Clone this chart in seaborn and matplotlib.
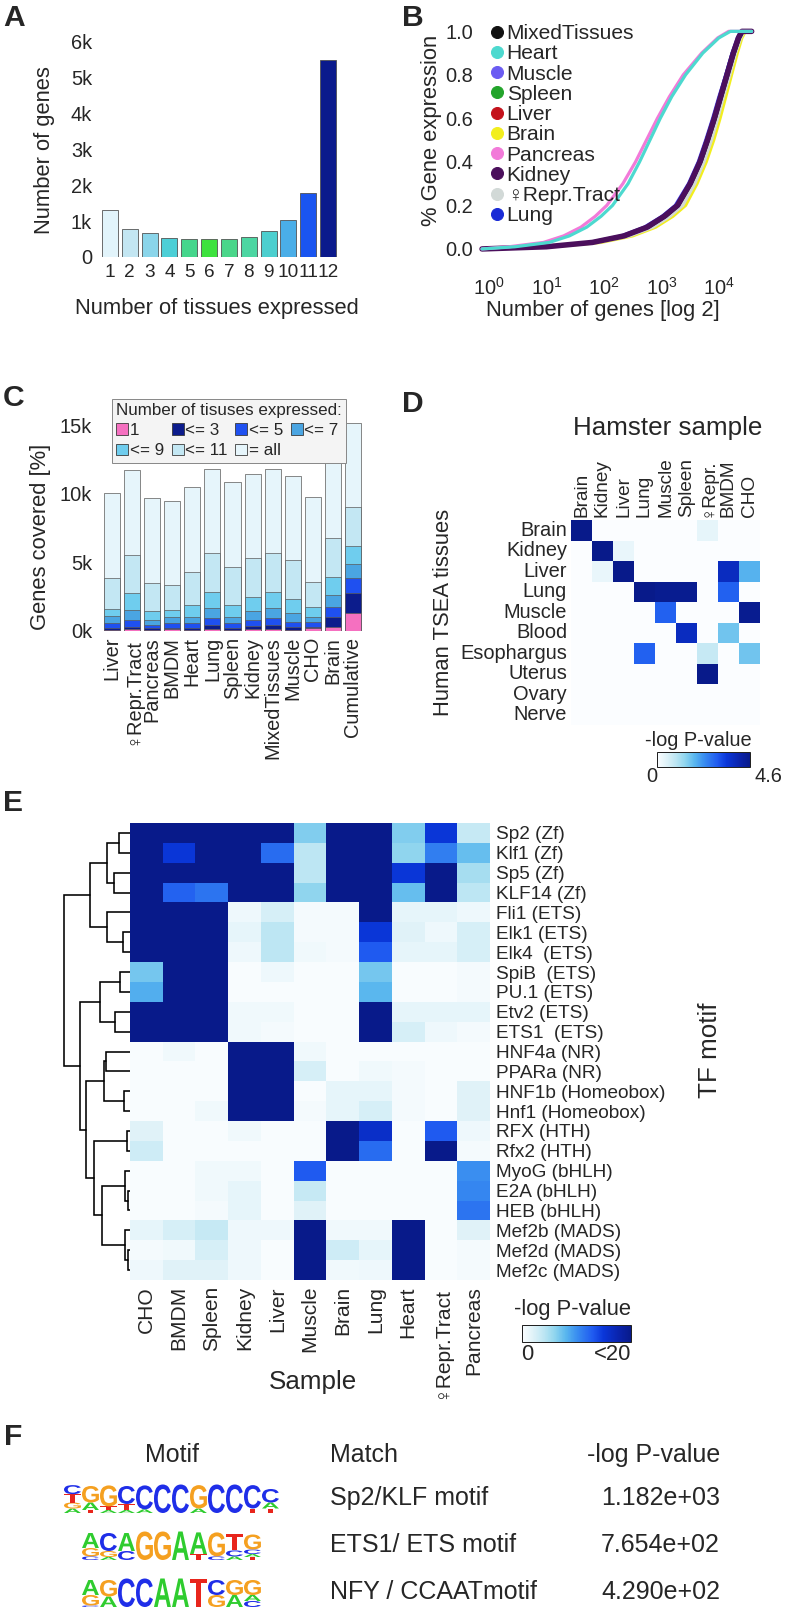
import numpy as np
import pandas as pd
import matplotlib
matplotlib.use("Agg")
import matplotlib.pyplot as plt
import seaborn as sns
from matplotlib.colors import LinearSegmentedColormap
from matplotlib.lines import Line2D
from matplotlib.patches import Patch, PathPatch
from matplotlib.textpath import TextPath
from matplotlib.font_manager import FontProperties
from matplotlib.transforms import Affine2D
from matplotlib.ticker import FixedLocator, NullFormatter

W, H = 788, 1610

# ---------------- A: number of genes vs number of tissues
A_TISSUES = ['1', '2', '3', '4', '5', '6', '7', '8', '9', '10', '11', '12']
A_GENES = [1310, 790, 670, 530, 495, 505, 505, 570, 730, 1030, 1770, 5470]
A_COLORS = ['#e2f4fb', '#c3e6f2', '#8ad5ea', '#4ccfd6', '#45d68c', '#3ee23e',
            '#4ad68a', '#4cd6a2', '#4ccfcf', '#4aaee8', '#1a55f0', '#0b1a8c']
A_YTICKS = [0, 1000, 2000, 3000, 4000, 5000, 6000]
A_YTICKLABELS = ['0', '1k', '2k', '3k', '4k', '5k', '6k']

# ---------------- B: cumulative gene expression curves (log10 genes at each fraction)
B_FRAC = [0, .01, .03, .06, .1, .15, .2, .3, .4, .5, .6, .7, .8, .9, .97, 1.0, 1.0]
B_X_MIXED = [-0.12, 1.02, 1.83, 2.38, 2.78, 3.08, 3.30, 3.52, 3.69, 3.82, 3.94, 4.05, 4.16, 4.27, 4.36, 4.42, 4.57]
B_X_HEART = [-0.12, 0.45, 1.05, 1.40, 1.70, 1.95, 2.15, 2.42, 2.62, 2.80, 2.98, 3.18, 3.42, 3.72, 4.00, 4.20, 4.57]
B_X_MUSCLE = [-0.12, 0.95, 1.75, 2.30, 2.70, 3.01, 3.24, 3.47, 3.64, 3.77, 3.89, 4.00, 4.12, 4.23, 4.32, 4.38, 4.57]
B_X_SPLEEN = [-0.12, 1.00, 1.81, 2.36, 2.76, 3.06, 3.29, 3.51, 3.68, 3.81, 3.93, 4.04, 4.15, 4.26, 4.35, 4.41, 4.57]
B_X_LIVER = [-0.12, 0.98, 1.78, 2.33, 2.73, 3.04, 3.27, 3.49, 3.66, 3.79, 3.91, 4.02, 4.13, 4.24, 4.33, 4.39, 4.57]
B_X_BRAIN = [-0.12, 1.10, 1.95, 2.50, 2.90, 3.20, 3.42, 3.62, 3.78, 3.91, 4.02, 4.12, 4.22, 4.32, 4.40, 4.46, 4.57]
B_X_PANCREAS = [-0.12, 0.35, 0.95, 1.30, 1.60, 1.85, 2.05, 2.33, 2.55, 2.74, 2.93, 3.14, 3.38, 3.70, 3.98, 4.17, 4.57]
B_X_KIDNEY = [-0.12, 1.00, 1.80, 2.35, 2.75, 3.05, 3.28, 3.50, 3.67, 3.80, 3.92, 4.03, 4.14, 4.25, 4.34, 4.40, 4.57]
B_X_REPR = [-0.12, 1.06, 1.90, 2.45, 2.85, 3.15, 3.37, 3.58, 3.74, 3.87, 3.98, 4.08, 4.19, 4.29, 4.38, 4.44, 4.57]
B_X_LUNG = [-0.12, 0.97, 1.77, 2.32, 2.72, 3.02, 3.25, 3.48, 3.65, 3.78, 3.90, 4.01, 4.12, 4.23, 4.33, 4.39, 4.57]
B_TISSUES = ['MixedTissues', 'Heart', 'Muscle', 'Spleen', 'Liver', 'Brain',
             'Pancreas', 'Kidney', '\u2640Repr.Tract', 'Lung']
B_COLORS = ['#111111', '#4dd9cf', '#6b5cf2', '#23a42b', '#c4121c', '#f2ee1e',
            '#f27ad9', '#4b0f5c', '#d2d9d7', '#1a2bd6']
B_CURVES = [B_X_MIXED, B_X_HEART, B_X_MUSCLE, B_X_SPLEEN, B_X_LIVER, B_X_BRAIN,
            B_X_PANCREAS, B_X_KIDNEY, B_X_REPR, B_X_LUNG]
B_DRAW_ORDER = [5, 8, 4, 3, 0, 2, 9, 7, 6, 1]

# ---------------- C: genes covered per sample (cumulative level tops)
C_SAMPLES = ['Liver', '\u2640Repr.Tract', 'Pancreas', 'BMDM', 'Heart', 'Lung', 'Spleen',
             'Kidney', 'MixedTissues', 'Muscle', 'CHO', 'Brain', 'Cumulative']
C_ALL = [10070, 11720, 9710, 9510, 10490, 11840, 10830, 11480, 11840, 11330, 9760, 12890, 15190]
C_LE11 = [3880, 5530, 3520, 3350, 4300, 5680, 4660, 5290, 5680, 5170, 3590, 6750, 9030]
C_LE9 = [1580, 2740, 1460, 1530, 1890, 2860, 1890, 2500, 2860, 2350, 1720, 3960, 6210]
C_LE7 = [1090, 1530, 800, 1040, 1040, 1700, 1040, 1460, 1700, 1290, 1040, 2620, 4850]
C_LE5 = [560, 800, 440, 560, 560, 920, 560, 800, 920, 680, 680, 1720, 3830]
C_LE3 = [240, 320, 190, 240, 190, 440, 190, 360, 440, 320, 320, 1040, 2790]
C_ONE = [70, 120, 70, 120, 70, 120, 70, 120, 120, 70, 190, 320, 1290]
C_LEVELS = ['1', '<= 3', '<= 5', '<= 7', '<= 9', '<= 11', '= all']
C_COLORS = ['#f570c0', '#0c1c8c', '#1f50f0', '#4aa5e2', '#6fcdee', '#c3e7f3', '#e6f5fb']
C_YTICKS = [0, 5000, 10000, 15000]
C_YTICKLABELS = ['0k', '5k', '10k', '15k']
C_YMINOR = [2500, 7500, 12500]

# ---------------- D: TSEA enrichment
D_TISSUES = ['Brain', 'Kidney', 'Liver', 'Lung', 'Muscle', 'Blood', 'Esophargus',
             'Uterus', 'Ovary', 'Nerve']
D_SAMPLES = ['Brain', 'Kidney', 'Liver', 'Lung', 'Muscle', 'Spleen', '\u2640Repr.',
             'BMDM', 'CHO']
D_VALUES = [
    [4.6, 0, 0, 0, 0, 0, 0.35, 0, 0],
    [0, 4.6, 0.3, 0, 0, 0, 0, 0, 0],
    [0, 0.3, 4.6, 0, 0, 0, 0, 3.8, 1.9],
    [0, 0, 0, 4.6, 4.5, 4.5, 0, 2.9, 0],
    [0, 0, 0, 0, 2.9, 0, 0, 0, 4.5],
    [0, 0, 0, 0, 0, 3.8, 0, 1.65, 0],
    [0, 0, 0, 2.9, 0, 0, 0.8, 0, 1.65],
    [0, 0, 0, 0, 0, 0, 4.6, 0, 0],
    [0, 0, 0, 0, 0, 0, 0, 0, 0],
    [0, 0, 0, 0, 0, 0, 0, 0, 0],
]

# ---------------- E: TF motif enrichment
E_MOTIFS = ['Sp2 (Zf)', 'Klf1 (Zf)', 'Sp5 (Zf)', 'KLF14 (Zf)', 'Fli1 (ETS)', 'Elk1 (ETS)',
            'Elk4  (ETS)', 'SpiB  (ETS)', 'PU.1 (ETS)', 'Etv2 (ETS)', 'ETS1  (ETS)',
            'HNF4a (NR)', 'PPARa (NR)', 'HNF1b (Homeobox)', 'Hnf1 (Homeobox)', 'RFX (HTH)',
            'Rfx2 (HTH)', 'MyoG (bHLH)', 'E2A (bHLH)', 'HEB (bHLH)', 'Mef2b (MADS)',
            'Mef2d (MADS)', 'Mef2c (MADS)']
E_SAMPLES = ['CHO', 'BMDM', 'Spleen', 'Kidney', 'Liver', 'Muscle', 'Brain', 'Lung',
             'Heart', '\u2640Repr.Tract', 'Pancreas']
E_VALUES = [
    [20, 20, 20, 20, 20, 6.5, 20, 20, 6.5, 15, 3.5],
    [20, 15, 20, 20, 12, 4, 20, 20, 6, 11, 7.5],
    [20, 20, 20, 20, 20, 4, 20, 20, 15, 20, 5],
    [20, 12.5, 11.5, 20, 20, 6, 20, 20, 7.5, 20, 4],
    [20, 20, 20, 1, 2.5, 0.5, 0.5, 20, 1.5, 1.5, 1],
    [20, 20, 20, 1.5, 4, 0.5, 0.5, 15, 2, 1, 2.5],
    [20, 20, 20, 1, 4, 0.8, 0.5, 13, 1.5, 1.5, 2.5],
    [7, 20, 20, 0.3, 1, 0.3, 0.3, 7, 0.3, 0.3, 0.5],
    [8.5, 20, 20, 0.3, 0.3, 0.3, 0.3, 8, 0.3, 0.3, 0.5],
    [20, 20, 20, 0.8, 0.8, 0.3, 0.3, 20, 1.5, 1.5, 1.5],
    [20, 20, 20, 0.8, 0.5, 0.3, 0.3, 20, 2.5, 1, 0.5],
    [0.3, 0.8, 0.3, 20, 20, 0.8, 0.3, 0.3, 0.3, 0.3, 0.3],
    [0.3, 0.3, 0.3, 20, 20, 2.5, 0.3, 0.8, 0.5, 0.3, 0.3],
    [0.3, 0.3, 0.3, 20, 20, 0.3, 1.5, 1.5, 0.5, 0.3, 2],
    [0.3, 0.3, 0.8, 20, 20, 0.5, 1.5, 2.5, 0.5, 0.3, 2],
    [2, 0.3, 0.3, 0.8, 0.3, 0.3, 20, 16, 0.3, 13, 1],
    [3, 0.3, 0.3, 0.3, 0.3, 0.3, 20, 12, 0.3, 20, 0.5],
    [0.3, 0.3, 0.8, 0.8, 0.3, 13, 0.3, 0.3, 0.3, 0.3, 10],
    [0.3, 0.3, 0.8, 1.5, 0.3, 3.5, 0.3, 0.3, 0.3, 0.3, 10.5],
    [0.3, 0.3, 0.5, 1.5, 0.3, 2, 0.3, 0.3, 0.3, 0.3, 11.5],
    [1.5, 2.5, 3.5, 1, 1, 20, 0.8, 0.8, 20, 0.3, 2],
    [0.5, 0.8, 2.5, 1, 0.3, 20, 3, 1.5, 20, 0.3, 0.5],
    [1, 2, 2, 1, 0.3, 20, 0.8, 1, 20, 0.3, 0.5],
]
# merges (left, right, distance); leaves 0..22, new clusters numbered from 23
E_LINKAGE = [(0, 1, 11), (2, 3, 16), (23, 24, 23), (5, 6, 7), (4, 26, 23), (25, 27, 40),
             (7, 8, 10), (9, 10, 15), (29, 30, 30), (11, 12, 24), (13, 14, 6), (32, 33, 26),
             (15, 16, 3), (18, 19, 2), (17, 36, 5), (21, 22, 2), (20, 38, 5), (37, 39, 28),
             (35, 40, 36), (34, 41, 44), (31, 42, 50), (28, 43, 66)]

# ---------------- F: de novo motifs (letter stacks bottom -> top, height as fraction)
F_MATCH = ['Sp2/KLF motif', 'ETS1/ ETS motif', 'NFY / CCAATmotif']
F_PVALUE = ['1.182e+03', '7.654e+02', '4.290e+02']
F_LOGO_SP2 = [[('A', .15), ('G', .2), ('T', .28), ('C', .3)], [('T', .1), ('A', .25), ('G', .55)],
              [('A', .1), ('T', .12), ('G', .7)], [('A', .1), ('T', .2), ('C', .6)],
              [('A', .12), ('C', .8)], [('C', .95)], [('C', .95)], [('A', .15), ('G', .78)],
              [('C', .95)], [('C', .95)], [('T', .15), ('C', .78)],
              [('T', .15), ('A', .2), ('C', .45)]]
F_LOGO_ETS = [[('C', .12), ('G', .28), ('A', .5)], [('A', .1), ('G', .2), ('C', .6)],
              [('C', .3), ('A', .6)], [('G', .95)], [('G', .95)], [('A', .95)],
              [('T', .2), ('A', .72)], [('C', .12), ('G', .8)],
              [('A', .12), ('C', .2), ('T', .55)], [('T', .1), ('A', .1), ('C', .15), ('G', .5)]]
F_LOGO_NFY = [[('C', .05), ('G', .35), ('A', .5)], [('A', .35), ('G', .55)], [('C', .95)],
              [('C', .95)], [('A', .95)], [('A', .95)], [('T', .95)], [('G', .4), ('C', .5)],
              [('A', .4), ('G', .5)], [('C', .2), ('A', .2), ('G', .5)]]
F_LOGOS = [F_LOGO_SP2, F_LOGO_ETS, F_LOGO_NFY]
F_BASE_COLORS = {'A': '#2fcc2f', 'C': '#1f2ee8', 'G': '#f5a020', 'T': '#e8251c'}

CMAP = LinearSegmentedColormap.from_list('blues', [
    (0.0, '#fbfdff'), (0.1, '#dff2f8'), (0.2, '#bde6f3'), (0.3, '#8fd5ee'),
    (0.4, '#5ab7ee'), (0.5, '#3a8ff0'), (0.65, '#1f5af0'), (0.75, '#0a36d8'),
    (0.9, '#0a22a8'), (1.0, '#081a8a')])

sns.set_style('white')
plt.rcParams['font.family'] = ['Liberation Sans', 'DejaVu Sans']
plt.rcParams['axes.unicode_minus'] = False

fig = plt.figure(figsize=(W / 72, H / 72), dpi=72)
PX = Affine2D().scale(1.0 / W, -1.0 / H).translate(0, 1) + fig.transFigure


def px_axes(x0, y0, x1, y1):
    return fig.add_axes([x0 / W, 1 - y1 / H, (x1 - x0) / W, (y1 - y0) / H])


def ftext(x, y, s, **kw):
    return fig.text(x, y, s, transform=PX, **kw)


for letter, lx, ly in [('A', 3, 18), ('B', 402, 18), ('C', 3, 398), ('D', 402, 404),
                       ('E', 3, 803), ('F', 4, 1437)]:
    ftext(lx, ly, letter, fontsize=30, fontweight='bold', va='center')

# ---------- panel A
axA = px_axes(100, 36, 338, 257)
sns.barplot(x=A_TISSUES, y=A_GENES, hue=A_TISSUES, palette=A_COLORS, legend=False,
            saturation=1, width=0.8, edgecolor='#4d4d4d', linewidth=0.8, ax=axA)
axA.set_ylim(0, 6150)
axA.set_yticks(A_YTICKS, A_YTICKLABELS)
sns.despine(ax=axA, left=True, bottom=True)
axA.tick_params(axis='y', length=5, width=1.2, pad=3, labelsize=20)
axA.tick_params(axis='x', length=0, pad=7, labelsize=19)
axA.set_xlabel('Number of tissues expressed', fontsize=22)
axA.xaxis.set_label_coords(217, 298, transform=PX)
axA.set_ylabel('Number of genes', fontsize=22)
axA.yaxis.set_label_coords(55, 150, transform=PX)

# ---------- panel B
axB = px_axes(478, 27, 762, 267)
axB.set_xscale('log')
for i in B_DRAW_ORDER:
    lw = 5.5 if B_TISSUES[i] == 'Kidney' else 3.2
    sns.lineplot(x=np.power(10.0, B_CURVES[i]), y=B_FRAC, color=B_COLORS[i], lw=lw,
                 ax=axB, legend=False)
axB.set_xlim(10 ** -0.19, 10 ** 4.75)
axB.set_ylim(-0.083, 1.02)
axB.set_yticks([0, 0.2, 0.4, 0.6, 0.8, 1.0], ['0.0', '0.2', '0.4', '0.6', '0.8', '1.0'])
axB.set_xticks([1, 10, 100, 1000, 10000])
axB.xaxis.set_minor_formatter(NullFormatter())
sns.despine(ax=axB, left=True, bottom=True)
axB.tick_params(axis='y', length=4, width=1.2, pad=1, labelsize=20)
axB.tick_params(axis='x', which='major', length=7, width=1.6, pad=3, labelsize=20)
axB.tick_params(axis='x', which='minor', length=2.5, width=1.6)
axB.set_xlabel('Number of genes [log 2]', fontsize=22)
axB.xaxis.set_label_coords(603, 300, transform=PX)
axB.set_ylabel('% Gene expression', fontsize=22)
axB.yaxis.set_label_coords(442, 130, transform=PX)
handles = [Line2D([], [], ls='', marker='o', ms=12, mfc=c, mec=c) for c in B_COLORS]
axB.legend(handles, B_TISSUES, loc='upper left', bbox_to_anchor=(491, 24),
           bbox_transform=PX, frameon=False, fontsize=21, handlelength=0.55,
           handletextpad=0.2, labelspacing=0.06, borderpad=0, borderaxespad=0)

# ---------- panel C
axC = px_axes(100, 417, 365, 631)
C_TOPS = [C_ONE, C_LE3, C_LE5, C_LE7, C_LE9, C_LE11, C_ALL]
for vals, color in zip(C_TOPS[::-1], C_COLORS[::-1]):
    sns.barplot(x=C_SAMPLES, y=vals, color=color, saturation=1, width=0.8,
                edgecolor='#5a5a5a', linewidth=0.7, ax=axC)
axC.set_xlim(-0.6, 12.6)
axC.set_ylim(0, 15600)
axC.set_yticks(C_YTICKS, C_YTICKLABELS)
axC.yaxis.set_minor_locator(FixedLocator(C_YMINOR))
sns.despine(ax=axC, left=True, bottom=True)
axC.tick_params(axis='y', which='both', length=5, width=1.2, pad=3, labelsize=20)
axC.tick_params(axis='x', length=0, pad=6, labelsize=20, rotation=90)
axC.set_xlabel('')
axC.set_ylabel('Genes covered [%]', fontsize=22)
axC.yaxis.set_label_coords(51, 537, transform=PX)
c_handles = [Patch(facecolor=c, edgecolor='#333333', lw=0.8) for c in C_COLORS]
c_order = [0, 4, 1, 5, 2, 6, 3]
axC.legend([c_handles[i] for i in c_order], [C_LEVELS[i] for i in c_order],
           title='Number of tisuses expressed:', ncol=4, loc='upper left',
           bbox_to_anchor=(112, 399), bbox_transform=PX, fontsize=17, title_fontsize=17,
           alignment='left', frameon=True, fancybox=False, edgecolor='#8a8a8a',
           facecolor='#f4f4f4', framealpha=1, handlelength=0.7, handleheight=0.7,
           handletextpad=0.1, columnspacing=0.45, borderpad=0.25, labelspacing=0.3,
           borderaxespad=0)

# ---------- panel D
axD = px_axes(571, 520, 760, 725)
caxD = px_axes(657, 752, 750, 767)
sns.heatmap(pd.DataFrame(D_VALUES, index=D_TISSUES, columns=D_SAMPLES), ax=axD,
            cmap=CMAP, vmin=0, vmax=4.6, cbar_ax=caxD,
            cbar_kws={'orientation': 'horizontal'}, xticklabels=True, yticklabels=True)
axD.xaxis.tick_top()
axD.tick_params(axis='x', length=0, pad=3, labelsize=19, rotation=90)
axD.tick_params(axis='y', length=0, pad=4, labelsize=20, rotation=0)
axD.set_xlabel('')
axD.set_ylabel('Human TSEA tissues', fontsize=22)
axD.yaxis.set_label_coords(454, 612, transform=PX)
ftext(668, 428, 'Hamster sample', fontsize=26, ha='center', va='center')
cbD = axD.collections[0].colorbar
cbD.set_ticks([])
cbD.outline.set_linewidth(1.0)
cbD.outline.set_edgecolor('#222222')
ftext(698, 740, '-log P-value', fontsize=20, ha='center', va='center')
ftext(652, 776, '0', fontsize=20, ha='center', va='center')
ftext(768, 776, '4.6', fontsize=20, ha='center', va='center')

# ---------- panel E
axE = px_axes(130, 823, 490, 1280)
caxE = px_axes(522, 1325, 631, 1342)
sns.heatmap(pd.DataFrame(E_VALUES, index=E_MOTIFS, columns=E_SAMPLES), ax=axE,
            cmap=CMAP, vmin=0, vmax=20, cbar_ax=caxE,
            cbar_kws={'orientation': 'horizontal'}, xticklabels=True, yticklabels=True)
axE.yaxis.tick_right()
axE.tick_params(axis='y', length=0, pad=6, labelsize=19, rotation=0)
axE.tick_params(axis='x', length=0, pad=6, labelsize=21, rotation=90)
axE.set_xlabel('')
axE.set_ylabel('')
ftext(710, 1050, 'TF motif', fontsize=26, rotation=90, ha='center', va='center')
ftext(313, 1382, 'Sample', fontsize=26, ha='center', va='center')
cbE = axE.collections[0].colorbar
cbE.set_ticks([])
cbE.outline.set_linewidth(1.0)
cbE.outline.set_edgecolor('#222222')
ftext(573, 1309, '-log P-value', fontsize=22, ha='center', va='center')
ftext(527, 1354, '0', fontsize=22, ha='center', va='center')
ftext(613, 1354, '<20', fontsize=22, ha='center', va='center')

axDen = px_axes(58, 823, 130, 1280)
node_pos = {i: (0.0, i + 0.5) for i in range(len(E_MOTIFS))}
for k, (a, b, h) in enumerate(E_LINKAGE):
    xa, ya = node_pos[a]
    xb, yb = node_pos[b]
    axDen.plot([xa, h, h, xb], [ya, ya, yb, yb], color='black', lw=1.6,
               solid_joinstyle='miter')
    node_pos[len(E_MOTIFS) + k] = (h, (ya + yb) / 2)
axDen.set_xlim(72, 0)
axDen.set_ylim(len(E_MOTIFS), 0)
axDen.axis('off')

# ---------- panel F
axF = px_axes(0, 1420, W, H)
axF.set_xlim(0, W)
axF.set_ylim(0, H - 1420)
axF.axis('off')
logo_font = FontProperties(family='Liberation Sans', weight='bold')
row_centers = [112, 65, 18]
axF.text(172, 155, 'Motif', fontsize=25, ha='center', va='center')
axF.text(330, 155, 'Match', fontsize=25, ha='left', va='center')
axF.text(720, 155, '-log P-value', fontsize=25, ha='right', va='center')
pos_w, logo_h = 18.0, 30.0
for logo, match, pval, yc in zip(F_LOGOS, F_MATCH, F_PVALUE, row_centers):
    x_start = 172 - pos_w * len(logo) / 2
    for j, stack in enumerate(logo):
        y = yc - logo_h / 2
        for base, frac in stack:
            hgt = frac * logo_h
            tp = TextPath((0, 0), base, size=1, prop=logo_font)
            bb = tp.get_extents()
            tr = (Affine2D().translate(-bb.x0, -bb.y0)
                  .scale(pos_w * 0.94 / bb.width, hgt / bb.height)
                  .translate(x_start + j * pos_w, y))
            axF.add_patch(PathPatch(tr.transform_path(tp), facecolor=F_BASE_COLORS[base],
                                    lw=0))
            y += hgt
    axF.text(330, yc, match, fontsize=25, ha='left', va='center')
    axF.text(720, yc, pval, fontsize=25, ha='right', va='center')

fig.savefig('out.png', dpi=72)
